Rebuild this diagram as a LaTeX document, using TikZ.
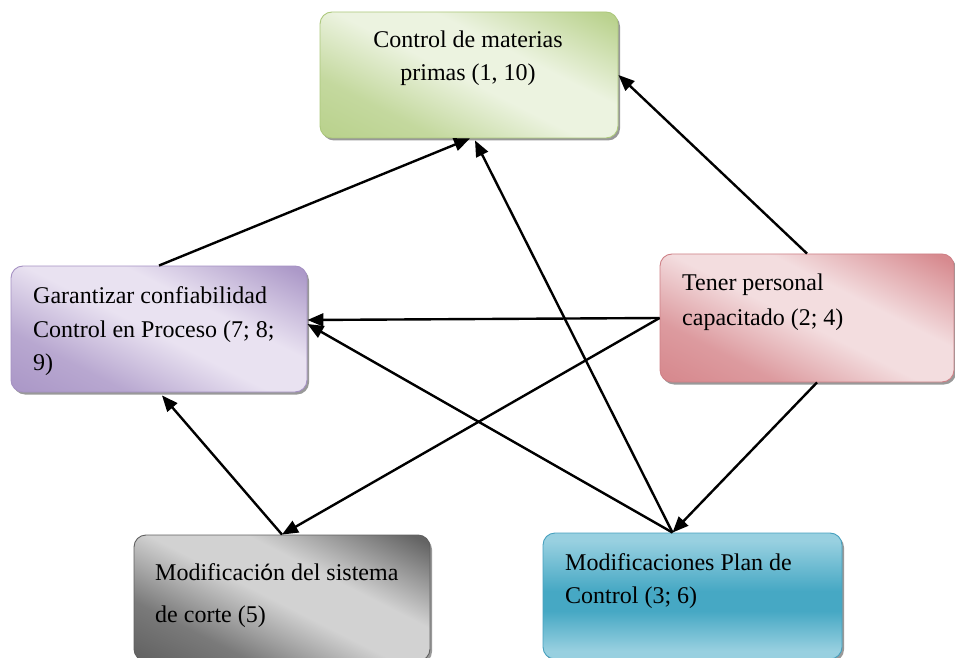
\documentclass[tikz,border=0pt]{standalone}
\usepackage{fontspec}
\setmainfont{Liberation Serif}
\newfontfamily\accentfont{Carlito}
\usetikzlibrary{arrows.meta}

% box colours: dark tone, light tone, border
\definecolor{greenD}{RGB}{186,210,142}
\definecolor{greenL}{RGB}{236,243,224}
\definecolor{greenB}{RGB}{172,200,124}
\definecolor{purpleD}{RGB}{172,153,200}
\definecolor{purpleL}{RGB}{233,226,241}
\definecolor{purpleB}{RGB}{165,145,195}
\definecolor{redD}{RGB}{215,138,143}
\definecolor{redL}{RGB}{243,221,223}
\definecolor{redB}{RGB}{206,128,134}
\definecolor{grayD}{RGB}{100,100,100}
\definecolor{grayL}{RGB}{210,210,210}
\definecolor{grayB}{RGB}{95,95,95}
\definecolor{blueD}{RGB}{70,168,196}
\definecolor{blueL}{RGB}{152,208,224}
\definecolor{blueB}{RGB}{70,160,190}

% diagonal two-tone gradients: dark at the lower left and upper right corners
\pgfdeclareverticalshading{greenshade}{100bp}{color(0bp)=(greenD); color(27bp)=(greenD); color(36bp)=(greenD!80!greenL); color(49bp)=(greenL); color(58bp)=(greenL); color(73bp)=(greenD); color(100bp)=(greenD)}
\pgfdeclareverticalshading{purpleshade}{100bp}{color(0bp)=(purpleD); color(27bp)=(purpleD); color(36bp)=(purpleD!80!purpleL); color(49bp)=(purpleL); color(58bp)=(purpleL); color(73bp)=(purpleD); color(100bp)=(purpleD)}
\pgfdeclareverticalshading{redshade}{100bp}{color(0bp)=(redD); color(27bp)=(redD); color(36bp)=(redD!80!redL); color(49bp)=(redL); color(58bp)=(redL); color(73bp)=(redD); color(100bp)=(redD)}
\pgfdeclareverticalshading{grayshade}{100bp}{color(0bp)=(grayD); color(27bp)=(grayD); color(36bp)=(grayD!80!grayL); color(49bp)=(grayL); color(58bp)=(grayL); color(73bp)=(grayD); color(100bp)=(grayD)}
% horizontal band: light top and bottom, darker middle
\pgfdeclareverticalshading{blueshade}{100bp}{color(0bp)=(blueL); color(39bp)=(blueL); color(47bp)=(blueD); color(51bp)=(blueD); color(61bp)=(blueL); color(100bp)=(blueL)}

% shadow and gradient fill of a card: centre x, centre y, width, height, shading, angle
\newcommand\cardbg[6]{%
  \fill[black!40, rounded corners=12pt] (#1-#3/2+2, #2-#4/2-2.5) rectangle ++(#3,#4);
  \begin{scope}
    \clip[rounded corners=12pt] (#1-#3/2, #2-#4/2) rectangle ++(#3,#4);
    \shade[shading=#5, transform canvas={shift={(#1,#2)}, rotate=#6}]
      (-320,-125) rectangle (320,125);
  \end{scope}}

\begin{document}
\begin{tikzpicture}[x=1pt,y=1pt,
  card/.style={draw=#1, line width=0.9pt, rounded corners=12pt, inner sep=0pt},
  txt/.style={inner sep=0pt, font=\fontsize{24}{33}\selectfont},
  arr/.style={line width=2.4pt, -{Triangle[length=16pt,width=13pt]}}]
\useasboundingbox (0,0) rectangle (955,657);
\clip (0,0) rectangle (955,657);

% boxes
\cardbg{469}{582}{298}{126}{greenshade}{-27}
\node[card=greenB, minimum width=298pt, minimum height=126pt] (green) at (469,582) {};
\cardbg{159}{328}{296}{126}{purpleshade}{-27}
\node[card=purpleB, minimum width=296pt, minimum height=126pt] (purple) at (159,328) {};
\cardbg{807}{339}{294}{128}{redshade}{-27}
\node[card=redB, minimum width=294pt, minimum height=128pt] (red) at (807,339) {};
\cardbg{282}{59}{296}{126}{grayshade}{-27}
\node[card=grayB, minimum width=296pt, minimum height=126pt] (gray) at (282,59) {};
\cardbg{692.5}{61}{299}{126}{blueshade}{0}
\node[card=blueB, minimum width=299pt, minimum height=126pt] (blue) at (692.5,61) {};

% texts
\node[txt, anchor=base] (g1) at (468,609) {Control de materias};
\node[txt, anchor=base] (g2) at (468,576) {primas (1, 10)};
\node[txt, anchor=base west] (p1) at (33,354) {Garantizar confiabilidad};
\node[txt, anchor=base west] (p2) at (33,320) {Control en Proceso (7; 8;};
\node[txt, anchor=base west] (p3) at (33,287) {9)};
\node[txt, anchor=base west] (r1) at (682,367) {Tener personal};
\node[txt, anchor=base west] (r2) at (682,332) {capacitado (2; 4)};
\node[txt, anchor=base west] (s1) at (155,77) {Modificaci{\accentfont ó}n del sistema};
\node[txt, anchor=base west] (s2) at (155,35) {de corte (5)};
\node[txt, anchor=base west] (b1) at (565,87) {Modificaciones Plan de};
\node[txt, anchor=base west] (b2) at (565,54) {Control (3; 6)};

% connection points
\coordinate (bluetop) at ([xshift=-20pt]blue.north);
\coordinate (redbottom) at ([xshift=10pt]red.south);

% connectors
\draw[arr] (purple.north) -- ([xshift=1pt]green.south);
\draw[arr] (bluetop) -- ([xshift=6pt,yshift=-2pt]green.south);
\draw[arr] (red.north) -- (green.east);
\draw[arr] (red.west) -- ([yshift=9pt]purple.east);
\draw[arr] (red.west) -- (gray.north);
\draw[arr] (redbottom) -- (bluetop);
\draw[arr] (bluetop) -- ([yshift=5pt]purple.east);
\draw[arr] (gray.north) -- ([xshift=3pt,yshift=-3pt]purple.south);
\end{tikzpicture}
\end{document}
